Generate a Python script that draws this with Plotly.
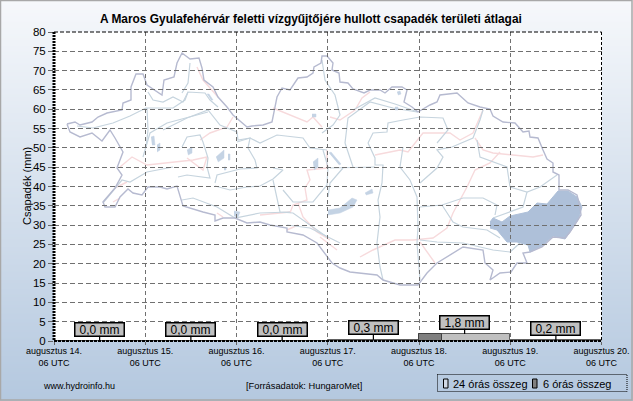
import pandas as pd
import plotly.graph_objects as go

W, H = 633, 401
L, R, T, B = 54, 601.5, 32, 341

# ---------- chart data ----------
DAY_STARTS = ["2023-08-14 06:00", "2023-08-15 06:00", "2023-08-16 06:00",
              "2023-08-17 06:00", "2023-08-18 06:00", "2023-08-19 06:00"]
TOTAL_24H = [0.0, 0.0, 0.0, 0.3, 1.8, 0.2]
LABELS_24H = ["0,0 mm", "0,0 mm", "0,0 mm", "0,3 mm", "1,8 mm", "0,2 mm"]
SIX_H_STARTS = ["2023-08-18 06:00"]
TOTAL_6H = [1.8]
TICK_DATES = DAY_STARTS + ["2023-08-20 06:00"]
TICK_LABELS = ["augusztus %d.<br>06 UTC" % d for d in (14, 15, 16, 17, 18, 19, 20)]
Y_TICKS = list(range(0, 81, 5))

# ---------- background map, in its own map-unit axes ----------
MAP_OUTLINE = [(67,124),(75,122),(80,125),(92,122),(98,117),(107,113),(122,110),(123,103),(131,100),(131,87),
 (136,74),(143,74),(147,85),(155,90),(162,95),(164,80),(174,77),(177,63),(182,53),(190,59),(199,58),(202,68),
 (204,80),(213,87),(218,97),(227,107),(233,115),(247,127),(252,126),(263,125),(272,122),(277,97),(282,88),
 (290,90),(298,78),(307,77),(313,73),(314,67),(321,63),(322,56),(327,56),(333,63),(332,70),(339,73),(340,82),
 (348,83),(353,89),(364,93),(370,90),(380,90),(385,93),(392,87),(402,87),(407,90),(404,102),(412,107),(418,112),
 (430,105),(437,102),(440,95),(457,93),(468,103),(480,107),(490,109),(493,116),(503,122),(515,123),(523,132),
 (529,131),(530,137),(538,138),(543,150),(547,159),(553,163),(553,172),(559,175),(559,190),(568,190),(577,195),
 (580,207),(581,215),(570,232),(565,238),(553,237),(542,247),(530,252),(523,253),(527,263),(517,263),(511,272),
 (500,273),(490,280),(493,270),(485,263),(483,250),(463,247),(453,253),(437,263),(427,273),(418,285),(400,285),
 (383,280),(377,275),(350,272),(340,268),(332,263),(317,243),(303,235),(287,232),(287,228),(270,225),(260,222),
 (247,223),(235,218),(223,218),(215,221),(215,215),(203,212),(183,206),(180,197),(177,186),(167,189),(160,187),
 (148,187),(142,195),(133,193),(128,189),(120,197),(115,207),(105,207),(103,202),(115,188),(122,175),(117,168),
 (123,152),(115,138),(110,130),(102,141),(92,133),(80,137),(70,132),(67,124)]

MAP_BASIN = [(490,222),(493,218),(502,222),(510,216),(528,212),(537,203),(547,204),(558,191),(568,191),(577,197),
 (582,207),(578,220),(570,232),(565,239),(553,236),(542,246),(530,252),(528,245),(517,242),(507,242),(497,230),(490,228)]

MAP_RIVERS = [
 [(77,126),(93,128),(113,123),(130,116),(146,108),(173,108),(185,100),(188,92),(205,93),(210,100),(218,107)],
 [(148,92),(153,100),(163,102),(173,97),(183,102),(188,92)],
 [(190,63),(188,83),(182,93)],
 [(163,130),(187,118),(208,110),(220,125),(237,132),(238,140),(250,138),(260,143),(277,135),(303,138),(310,148),(327,150)],
 [(147,108),(148,130),(146,148)],
 [(182,147),(187,137),(200,135),(203,142),(208,158),(207,167),(210,178),(187,175),(178,177)],
 [(237,142),(250,138),(248,148),(255,160),(257,168),(240,169),(217,175),(215,183)],
 [(215,186),(230,190),(247,187),(260,186),(273,179),(283,170),(273,168)],
 [(273,180),(277,200),(280,212),(293,213),(317,230),(327,237)],
 [(283,190),(293,202),(313,202),(327,185),(328,167),(323,150)],
 [(103,203),(122,180),(130,182),(147,172),(173,167)],
 [(143,157),(150,133),(167,123),(208,112)],
 [(182,200),(193,198),(217,207),(235,218),(260,213),(290,212)],
 [(287,225),(310,228),(340,243)],
 [(345,143),(348,118),(370,102),(393,108),(417,112)],
 [(345,143),(353,167)],
 [(368,143),(373,133),(387,132),(388,123),(403,120),(420,117),(443,118),(448,130),(437,143)],
 [(368,143),(375,158),(375,165),(383,165),(382,183),(378,200),(380,217),(377,243),(380,267),(383,280)],
 [(330,168),(375,167)],
 [(343,168),(330,183),(328,197)],
 [(403,147),(400,167),(410,180),(417,197),(418,227),(417,243),(420,280)],
 [(420,207),(442,205),(463,198),(483,198),(497,205),(495,215)],
 [(442,205),(453,222),(463,227),(487,230),(500,238)],
 [(420,240),(437,242),(463,243),(493,250),(510,252),(520,243)],
 [(510,187),(527,192),(540,187),(557,175)],
 [(527,192),(523,207),(493,218)],
 [(477,140),(480,157),(507,167),(510,187)],
 [(420,183),(437,168),(443,157),(437,150),(452,147),(473,138),(480,120),(483,110)],
 [(322,60),(325,80),(335,95),(340,115),(333,125),(322,133)],
 [(353,110),(375,98),(395,104),(418,112)],
]

MAP_ROADS = [
 [(197,67),(203,80),(210,88),(218,97)],
 [(273,108),(290,115),(307,122),(313,117),(322,127)],
 [(330,117),(340,120),(355,110),(362,98),(370,92)],
 [(375,155),(400,150),(408,152),(423,133),(450,133),(460,140),(473,133),(483,110)],
 [(475,138),(483,150),(493,153),(510,155),(533,157),(543,155)],
 [(500,152),(490,163),(475,170),(467,187),(453,213),(447,228),(433,238),(413,240),(395,240),(373,250),(360,257)],
 [(420,242),(435,263)],
 [(320,237),(337,250)],
 [(120,167),(132,157),(147,165),(180,161),(193,160),(207,157),(203,170),(187,158)],
 [(115,188),(127,182)],
 [(113,202),(120,198)],
 [(233,117),(227,127),(210,133),(200,140)],
 [(327,150),(327,168),(307,170),(310,180),(305,188),(307,200),(293,205),(290,213)],
 [(298,203),(303,217),(317,232),(330,240)],
 [(260,215),(290,212)],
 [(217,213),(223,217)],
 [(287,230),(298,225)],
]

MAP_LAKES = [
 [(151,137),(154,136),(155,145),(152,145)],
 [(157,145),(160,143),(160,150),(157,152)],
 [(187,150),(192,147),(192,153),(188,155)],
 [(216,157),(224,150),(224,158),(218,162)],
 [(228,154),(230,154),(230,160),(228,160)],
 [(224,167),(226,167),(226,170),(224,170)],
 [(234,211),(240,212),(238,217),(234,216)],
 [(313,162),(318,158),(318,167),(314,170)],
 [(328,210),(340,208),(352,198),(357,200),(353,207),(340,213),(328,215)],
 [(365,193),(372,189),(373,193),(366,195)],
 [(329,153),(331,152),(341,164),(339,165)],
 [(397,92),(400,91),(401,94),(398,95)],
 [(395,107),(398,107),(398,110),(395,110)],
 [(312,114),(316,114),(316,117),(312,117)],
 [(207,94),(209,94),(213,100),(211,100)],
]

GRADIENT_STOPS = [0.0, 1.0]
PANEL_TOP, PANEL_BOTTOM = "#f6f8fb", "#b4c8df"


def flatten(lines):
    xs, ys = [], []
    for line in lines:
        xs += [p[0] for p in line] + [None]
        ys += [p[1] for p in line] + [None]
    return xs, ys


def px(x):
    return x / W


def py(y):
    return 1 - y / H


day_starts = pd.to_datetime(DAY_STARTS)
centers = day_starts + pd.Timedelta(hours=12)
six_centers = pd.to_datetime(SIX_H_STARTS) + pd.Timedelta(hours=3)

fig = go.Figure()

# panel gradient (bottom subplot, fills the whole page)
fig.add_trace(go.Heatmap(x=[0, 1], y=[1, 0], z=[[GRADIENT_STOPS[0]] * 2, [GRADIENT_STOPS[1]] * 2],
                         colorscale=[[0, PANEL_TOP], [1, PANEL_BOTTOM]], zsmooth="best",
                         showscale=False, hoverinfo="skip", xaxis="x", yaxis="y"))

# white plotting area, above the gradient
fig.add_trace(go.Heatmap(x=[L, R], y=[T, B], z=[[0, 0], [0, 0]], zmin=0, zmax=1,
                         colorscale=[[0, "#ffffff"], [1, "#ffffff"]], showscale=False,
                         hoverinfo="skip", xaxis="x2", yaxis="y2"))

# map (middle subplot, so the chart's grid runs over it)
rx, ry = flatten(MAP_ROADS)
fig.add_trace(go.Scatter(x=rx, y=ry, mode="lines", line=dict(color="#f7dadc", width=1.4),
                         hoverinfo="skip", showlegend=False, xaxis="x2", yaxis="y2"))
rx, ry = flatten(MAP_RIVERS)
fig.add_trace(go.Scatter(x=rx, y=ry, mode="lines", line=dict(color="#c6d4de", width=1.2),
                         hoverinfo="skip", showlegend=False, xaxis="x2", yaxis="y2"))
rx, ry = flatten(MAP_LAKES)
fig.add_trace(go.Scatter(x=rx, y=ry, mode="lines", fill="toself", fillcolor="#c4d3e4",
                         line=dict(color="#c4d3e4", width=0.5),
                         hoverinfo="skip", showlegend=False, xaxis="x2", yaxis="y2"))
fig.add_trace(go.Scatter(x=[p[0] for p in MAP_BASIN], y=[p[1] for p in MAP_BASIN], mode="lines", fill="toself",
                         fillcolor="#aec0d9", line=dict(color="#aec0d9", width=1),
                         hoverinfo="skip", showlegend=False, xaxis="x2", yaxis="y2"))
fig.add_trace(go.Scatter(x=[p[0] for p in MAP_OUTLINE], y=[p[1] for p in MAP_OUTLINE], mode="lines",
                         line=dict(color="#b6bad0", width=1.4),
                         hoverinfo="skip", showlegend=False, xaxis="x2", yaxis="y2"))

# bars (top subplot)
fig.add_trace(go.Bar(x=centers, y=TOTAL_24H, width=[86400000] * len(centers), name="24 órás összeg",
                     marker=dict(color="#c0c0c0", line=dict(color="#606060", width=1)),
                     showlegend=False, xaxis="x3", yaxis="y3"))
fig.add_trace(go.Bar(x=six_centers, y=TOTAL_6H, width=[21600000], name="6 órás összeg",
                     marker=dict(color="#7f7f7f", line=dict(color="#404040", width=1)),
                     showlegend=False, xaxis="x3", yaxis="y3"))

dom_x = [px(L), px(R)]
dom_y = [py(B), py(T)]
hidden = dict(visible=False, fixedrange=True, automargin=False)
FONT = "Liberation Sans, Arial, sans-serif"

annotations = []
for c, v, t in zip(centers, TOTAL_24H, LABELS_24H):
    annotations.append(dict(x=c, y=v, xref="x3", yref="y3", text=t, showarrow=True, arrowhead=0, arrowwidth=1.2,
                            arrowcolor="#000000", ax=0, ay=-12, width=48, height=12, bgcolor="#c0c0c0",
                            bordercolor="#000000", borderwidth=1.5, borderpad=0,
                            font=dict(family=FONT, size=12, color="#000000")))


def text(x, y, s, size, anchor="left", angle=0):
    annotations.append(dict(x=px(x), y=py(y), xref="paper", yref="paper", text=s, showarrow=False,
                            xanchor=anchor, yanchor="middle", textangle=angle,
                            font=dict(family=FONT, size=size, color="#000000")))


text(311, 19, "<b>A Maros Gyulafehérvár feletti vízgyűjtőjére hullott csapadék területi átlagai</b>", 11.9, "center")
text(27, 186, "Csapadék (mm)", 11, "center", -90)
text(41, 385.5, "www.hydroinfo.hu", 9)
text(244, 386, "[Forrásadatok: HungaroMet]", 9.3)
text(450.5, 383.5, "24 órás összeg", 11)
text(540.5, 383.5, "6 órás összeg", 11)


def pshape(x0, y0, x1, y1, **kw):
    return dict(type=kw.pop("type", "rect"), xref="paper", yref="paper", x0=px(x0), y0=py(y0), x1=px(x1), y1=py(y1),
                layer="above", **kw)


shapes = [
    # plot frame
    pshape(L, T, L, B, type="line", line=dict(color="#000000", width=3, dash="2px,1px")),
    pshape(L, B, R, B, type="line", line=dict(color="#000000", width=2, dash="3px,1px")),
    pshape(L, T, R, T, type="line", line=dict(color="#000000", width=1, dash="4px,2px")),
    pshape(R, T, R, B, type="line", line=dict(color="#000000", width=1, dash="3px,2px")),
    # legend box and keys
    pshape(437.5, 374.5, 627, 391.5, line=dict(color="#000000", width=1, dash="1px,1px")),
    pshape(443.5, 379, 448, 388, fillcolor="#d0d8e4", line=dict(color="#000000", width=1)),
    pshape(532.5, 379, 537, 388, fillcolor="#808080", line=dict(color="#000000", width=1)),
    # page frame
    pshape(0.5, 0.5, W - 1, H - 1, line=dict(color="#a8a8a8", width=1.5)),
]

fig.update_layout(
    template="none",
    width=W, height=H, margin=dict(l=0, r=0, t=0, b=0, autoexpand=False),
    paper_bgcolor="#ffffff", plot_bgcolor="rgba(0,0,0,0)", barmode="overlay", bargap=0, showlegend=False,
    font=dict(family=FONT, color="#000000"),
    xaxis=dict(domain=[0, 1], range=[0, 1], **hidden),
    yaxis=dict(domain=[0, 1], range=[0, 1], **hidden),
    xaxis2=dict(domain=dom_x, range=[L, R], anchor="y2", **hidden),
    yaxis2=dict(domain=dom_y, range=[B, T], anchor="x2", **hidden),
    xaxis3=dict(domain=dom_x, anchor="y3", type="date", range=[TICK_DATES[0], TICK_DATES[-1]],
                tickmode="array", tickvals=TICK_DATES, ticktext=TICK_LABELS, tickangle=0,
                tickfont=dict(size=9), ticks="outside", ticklen=3, tickcolor="#666666", ticklabelstandoff=-2,
                showgrid=True, gridcolor="#707070", griddash="4px,3px", gridwidth=1,
                showline=False, zeroline=False, fixedrange=True, automargin=False),
    yaxis3=dict(domain=dom_y, anchor="x3", range=[0, 80], tickmode="array", tickvals=Y_TICKS,
                tickfont=dict(size=11.5), ticks="outside", ticklen=5, tickcolor="#666666",
                showgrid=True, gridcolor="#707070", griddash="5px,3px", gridwidth=1,
                showline=False, zeroline=False, fixedrange=True, automargin=False),
    annotations=annotations, shapes=shapes,
)

fig.write_html("out.html", config=dict(displayModeBar=False),
               post_script="document.body.style.margin='0';document.documentElement.style.overflow='hidden';")
